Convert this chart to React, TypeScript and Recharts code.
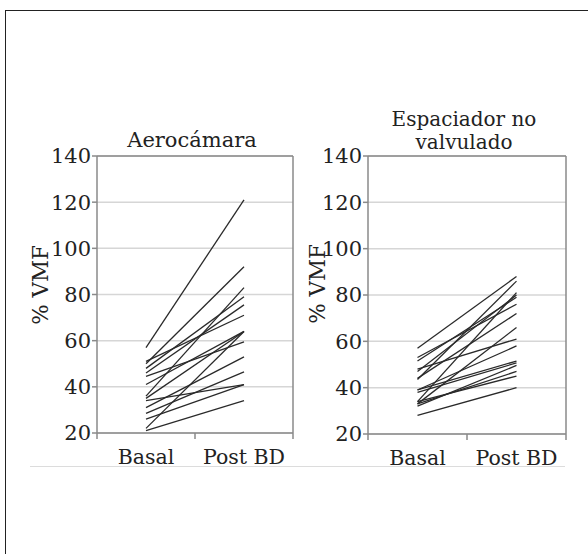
import React from 'react';
import { LineChart, Line, XAxis, YAxis, CartesianGrid, ReferenceLine } from 'recharts';

const categories = ['Basal', 'Post BD'];
const yTicks = [20, 40, 60, 80, 100, 120, 140];
const xTicks = [0, 0.5, 1, 1.5, 2];

// Aerocámara: one line per patient, basal -> post BD
const aeroBasal = [57, 50, 48, 46, 51, 36, 41, 44.5, 35, 31, 28.5, 34, 22, 26, 21];
const aeroPost = [121, 92, 79, 75.5, 71, 83, 64, 59.5, 64, 53, 46.5, 41, 64, 41, 34];

// Espaciador no valvulado
const espBasal = [57, 53, 51.5, 48, 47, 44, 43.5, 39, 39, 38, 34, 33, 33, 32, 34, 28];
const espPost = [88, 76, 79, 61, 80, 72, 86, 51.5, 58, 50.7, 81, 66, 47, 49.6, 45, 40];

const FONT = '"DejaVu Serif", "Liberation Serif", serif';
const AXIS = '#8a8a8a';

const XTick = ({ x, y, payload }: any) => {
  const v = payload.value;
  if (Number.isInteger(v)) {
    return <line x1={x} x2={x} y1={y} y2={y + 6} stroke={AXIS} strokeWidth={1.5} />;
  }
  return (
    <text x={x} y={y + 31} textAnchor="middle" fontSize={20.5} fontFamily={FONT} fill="#222">
      {categories[Math.floor(v)]}
    </text>
  );
};

function Panel({ basal, post, left, margin }: any) {
  return (
    <div style={{ position: 'absolute', left, top: 0 }}>
      <LineChart width={300} height={480} margin={margin}>
        <CartesianGrid vertical={false} stroke="#d6d6d6" strokeWidth={1.5} />
        <XAxis
          type="number"
          dataKey="x"
          domain={[0, 2]}
          ticks={xTicks}
          interval={0}
          tick={<XTick />}
          tickLine={false}
          tickSize={0}
          tickMargin={0}
          axisLine={{ stroke: AXIS, strokeWidth: 1.5 }}
          height={30}
        />
        <YAxis
          type="number"
          domain={[20, 140]}
          ticks={yTicks}
          interval={0}
          width={60}
          tickSize={5}
          tickMargin={1}
          tickLine={{ stroke: AXIS, strokeWidth: 1.5 }}
          axisLine={{ stroke: AXIS, strokeWidth: 1.5 }}
          tick={{ fontSize: 21, fill: '#222', fontFamily: FONT }}
        />
        <ReferenceLine y={140} stroke={AXIS} strokeWidth={1.5} />
        <ReferenceLine x={2} stroke={AXIS} strokeWidth={1.5} />
        {basal.map((b: number, i: number) => (
          <Line
            key={`l-${i}`}
            data={[
              { x: 0.5, y: b },
              { x: 1.5, y: post[i] },
            ]}
            dataKey="y"
            stroke="#2a2a2a"
            strokeWidth={1.3}
            dot={false}
            isAnimationActive={false}
          />
        ))}
      </LineChart>
    </div>
  );
}

const labelStyle: React.CSSProperties = {
  position: 'absolute',
  fontFamily: FONT,
  fontSize: 21.5,
  color: '#222',
  whiteSpace: 'nowrap',
  lineHeight: '22px',
  transform: 'translate(-50%, -50%) rotate(-90deg)',
};

const titleStyle: React.CSSProperties = {
  position: 'absolute',
  width: 220,
  textAlign: 'center',
  fontFamily: FONT,
  fontSize: 21,
  color: '#222',
  whiteSpace: 'nowrap',
};

export default function App() {
  return (
    <div
      style={{
        position: 'absolute',
        left: 0,
        top: 0,
        width: 588,
        height: 554,
        overflow: 'hidden',
        background: '#fff',
      }}
    >
      <div
        style={{
          position: 'absolute',
          left: 5,
          top: 10,
          width: 700,
          height: 700,
          borderLeft: '1.5px solid #222',
          borderTop: '1.5px solid #222',
        }}
      />
      <div style={{ position: 'absolute', left: 30, top: 466, width: 535, height: 1, background: '#dcdcdc' }} />

      <Panel basal={aeroBasal} post={aeroPost} left={0} margin={{ top: 156, right: 7, bottom: 17, left: 37 }} />
      <Panel basal={espBasal} post={espPost} left={280} margin={{ top: 156, right: 14, bottom: 16, left: 28 }} />

      <div style={{ ...titleStyle, left: 82, top: 128, lineHeight: '24px' }}>Aerocámara</div>
      <div style={{ ...titleStyle, left: 354, top: 108, lineHeight: '23px', fontSize: 20 }}>Espaciador no</div>
      <div style={{ ...titleStyle, left: 354, top: 131, lineHeight: '23px', fontSize: 20 }}>valvulado</div>

      <div style={{ ...labelStyle, left: 41, top: 285 }}>% VMF</div>
      <div style={{ ...labelStyle, left: 318, top: 284 }}>% VMF</div>
    </div>
  );
}
